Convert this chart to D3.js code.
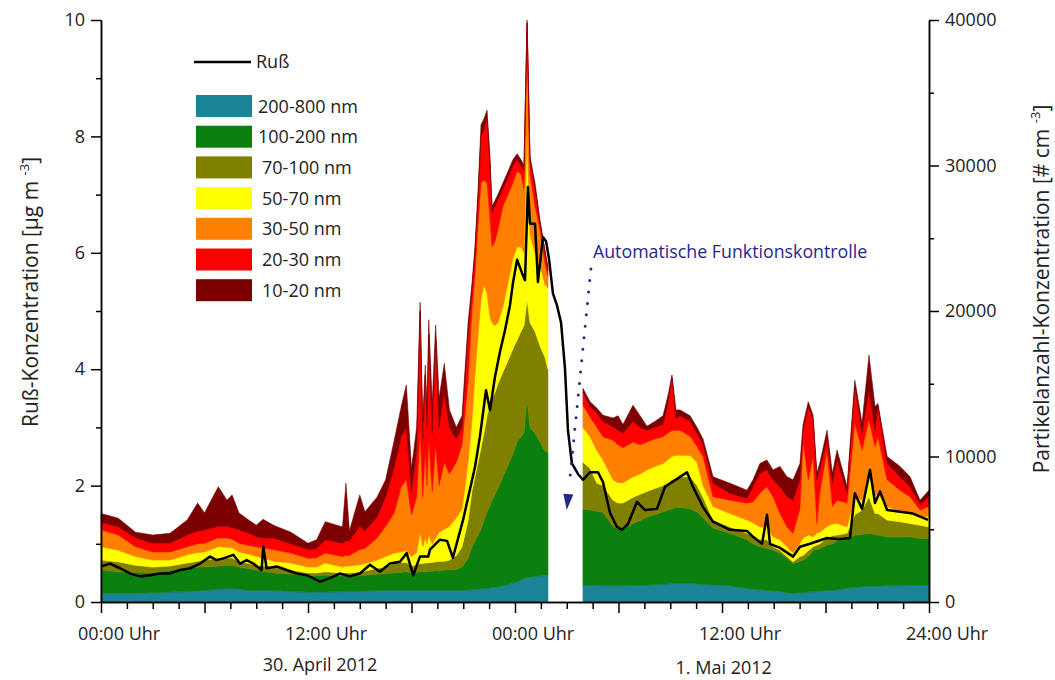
<!DOCTYPE html>
<html lang="de">
<head>
<meta charset="utf-8">
<title>Ruß- und Partikelanzahl-Konzentration</title>
<script src="https://cdn.jsdelivr.net/npm/d3@7"></script>
<style>
  body { margin: 0; background: #fff; }
  svg { display: block; font-family: "Open Sans", sans-serif; }
</style>
</head>
<body>
<div id="chart"></div>
<script>
// Zeit in Stunden ab 30.04.2012 00:00 Uhr (null-Zeile = Messluecke)
const stunden = [0, 1, 2, 3, 4, 5, 5.6, 6, 6.8, 7.3, 7.6, 8, 8.6, 9, 9.4, 10, 11, 12, 12.5, 13,
  14, 14.2, 14.4, 15, 15.3, 16, 16.5, 17, 17.4, 17.7, 18, 18.3, 18.5, 18.65, 18.8, 18.9, 19, 19.2, 19.4, 19.6,
  19.9, 20.2, 20.6, 20.93, 21.28, 21.5, 21.68, 21.86, 22.03, 22.2, 22.38, 22.55, 22.67, 22.84, 23.01, 23.3, 23.6, 23.88, 24.12, 24.35,
  24.52, 24.7, 24.87, 25.16, 25.45, 25.74, 25.91, 26.9,
  27.94, 28.35, 28.75, 29.1, 29.68, 29.97, 30.26, 30.84, 31.25, 31.65, 32.1, 32.58, 32.87, 33.1, 33.33, 33.57, 34.15, 34.55, 34.9, 35.48,
  36.46, 37.45, 37.8, 38.2, 38.6, 38.96, 39.36, 39.77, 40.12, 40.52, 40.7, 41.0, 41.28, 41.5, 41.68, 42.09, 42.4, 42.67, 43.25, 43.7,
  44.12, 44.52, 44.87, 45.04, 45.57, 46.32, 46.9, 47.48, 48];

// Partikelanzahl je Groessenklasse [# cm-3]
const n200_800 = [600, 600, 600, 640, 680, 720, 760, 800, 880, 920, 920, 880, 800, 800, 800, 800, 720, 680, 680, 680,
  720, 720, 720, 720, 760, 800, 800, 800, 800, 800, 800, 800, 800, 800, 800, 800, 800, 800, 800, 800,
  800, 800, 800, 800, 840, 840, 880, 880, 920, 920, 960, 960, 1000, 1000, 1040, 1120, 1200, 1320, 1400, 1520,
  1600, 1680, 1720, 1760, 1800, 1840, 1840, null,
  1160, 1160, 1160, 1120, 1120, 1120, 1120, 1160, 1160, 1160, 1200, 1240, 1240, 1280, 1280, 1280, 1280, 1240, 1200, 1160,
  1120, 920, 880, 840, 800, 760, 720, 640, 600, 640, 640, 680, 720, 720, 760, 800, 800, 840, 960, 1000,
  1040, 1080, 1080, 1080, 1120, 1120, 1160, 1160, 1160];
const n100_200 = [1600, 1480, 1400, 1360, 1480, 1600, 1640, 1600, 1600, 1600, 1600, 1520, 1480, 1400, 1320, 1200, 1200, 1120, 1120, 1160,
  1080, 1080, 1080, 1120, 1080, 1120, 1160, 1200, 1240, 1280, 1200, 1240, 1280, 1280, 1280, 1280, 1320, 1320, 1360, 1360,
  1400, 1400, 1440, 1600, 2160, 2960, 3320, 3720, 4080, 4680, 5240, 5640, 6000, 6400, 6760, 7480, 8200, 8880, 9600, 9880,
  10000, 12320, 10280, 9840, 9200, 8560, 8400, null,
  5240, 5160, 5080, 5040, 4080, 3880, 3880, 4240, 4440, 4680, 4800, 4960, 5080, 5120, 5200, 5240, 5120, 4960, 4600, 3920,
  3600, 3360, 3120, 2960, 2880, 2800, 2640, 2360, 2040, 2160, 2240, 2440, 2840, 2880, 2920, 3120, 3200, 3360, 3320, 3600,
  3600, 3640, 3560, 3520, 3360, 3360, 3320, 3200, 3200];
const n70_100 = [680, 680, 520, 400, 320, 360, 400, 480, 520, 520, 520, 360, 360, 320, 360, 400, 280, 200, 200, 240,
  200, 200, 200, 240, 280, 400, 440, 680, 680, 640, 480, 520, 560, 560, 600, 600, 600, 600, 600, 640,
  600, 680, 960, 1400, 2600, 3800, 4400, 5000, 5600, 6000, 6600, 7000, 7000, 7000, 7200, 7200, 7200, 7200, 7000, 7200,
  7400, 6800, 7200, 7000, 6600, 6400, 5760, null,
  3200, 2880, 1920, 1840, 1800, 1800, 1800, 1800, 1800, 1760, 1800, 1800, 1880, 2000, 2000, 2080, 2200, 1800, 1400, 560,
  440, 440, 480, 480, 600, 240, 200, 120, 120, 320, 320, 400, 240, 320, 320, 480, 560, 400, 440, 1400,
  1680, 2520, 1440, 1480, 1160, 1040, 920, 920, 800];
const n50_70 = [920, 800, 600, 480, 400, 560, 600, 560, 800, 720, 680, 680, 640, 600, 560, 400, 480, 400, 400, 600,
  400, 480, 480, 480, 520, 560, 720, 680, 720, 800, 640, 840, 2160, 1160, 1720, 1320, 1880, 1280, 1640, 2000,
  2200, 2320, 2600, 2600, 4000, 4800, 7000, 8800, 10200, 10200, 8400, 6000, 5200, 4600, 4200, 4480, 5400, 6200, 6400, 5800,
  5000, 11600, 6000, 5400, 5600, 5000, 5600, null,
  2400, 2160, 2240, 1760, 1400, 1400, 1400, 1400, 1400, 1480, 1520, 1520, 1600, 1600, 1600, 1480, 1480, 1600, 800, 920,
  920, 920, 960, 880, 880, 680, 720, 680, 600, 880, 1200, 1080, 680, 800, 800, 800, 800, 800, 440, 1240,
  680, 1600, 1160, 1400, 920, 680, 680, 600, 720];
const n30_50 = [1160, 1040, 680, 560, 560, 560, 600, 600, 600, 640, 600, 600, 600, 680, 680, 800, 680, 600, 640, 680,
  720, 720, 720, 1040, 1040, 1520, 2080, 2760, 4480, 4880, 2880, 3800, 7200, 3400, 6000, 4000, 6600, 3600, 6400, 3200,
  4600, 3600, 3800, 4400, 5600, 7600, 6800, 7600, 8000, 7200, 7600, 6800, 5200, 5800, 6400, 6920, 6000, 5200, 5200, 5000,
  4400, 6800, 4200, 3200, 2400, 1480, 800, null,
  1520, 1360, 1600, 1600, 2720, 2600, 2400, 2400, 2000, 1920, 1880, 1840, 1800, 1800, 1720, 1720, 1320, 1080, 2000, 680,
  920, 1160, 1440, 2320, 2760, 2760, 1800, 1360, 1360, 2400, 6720, 3800, 5520, 680, 2800, 5240, 1200, 1600, 1640, 5040,
  3440, 3680, 3440, 3880, 1840, 1480, 1160, 440, 680];
const n20_30 = [520, 560, 600, 600, 600, 800, 880, 920, 800, 800, 800, 920, 840, 680, 680, 800, 640, 600, 640, 920,
  920, 1000, 1000, 1600, 1200, 1440, 2000, 3160, 3440, 3600, 1600, 3200, 8000, 4000, 5200, 4000, 7200, 4000, 7200, 4000,
  4800, 3200, 1600, 1200, 3200, 1400, 1600, 1600, 3200, 3400, 4400, 3600, 2400, 2400, 2000, 1200, 1200, 1200, 800, 600,
  1200, 600, 800, 1200, 400, 720, 400, null,
  880, 720, 960, 1040, 920, 1000, 1000, 1400, 1200, 800, 800, 840, 2000, 3600, 800, 1000, 1000, 920, 800, 920,
  480, 320, 1040, 1360, 1160, 1160, 1840, 2080, 2280, 2000, 680, 5000, 2520, 3000, 1600, 680, 1600, 2760, 680, 2520,
  1160, 2040, 1120, 2080, 1120, 920, 680, 360, 680];
const n10_20 = [600, 600, 400, 560, 680, 1040, 1920, 1160, 2720, 1800, 2240, 1160, 880, 800, 1280, 880, 800, 440, 600, 1240,
  1120, 3960, 680, 2160, 1320, 1360, 1200, 1840, 2040, 2920, 1600, 1600, 600, 1200, 680, 1200, 1000, 2000, 1040, 2000,
  2000, 1200, 800, 800, 800, 400, 400, 800, 800, 800, 600, 600, 400, 400, 400, 400, 400, 400, 400, 400,
  400, 200, 400, 400, 240, 200, 200, null,
  280, 320, 360, 440, 600, 1000, 600, 1120, 800, 280, 400, 600, 600, 200, 600, 400, 400, 400, 400, 440,
  680, 560, 480, 680, 680, 680, 1400, 1360, 1400, 1120, 400, 360, 320, 440, 400, 680, 680, 680, 440, 440,
  680, 2400, 1640, 200, 480, 720, 680, 320, 440];

const klassen = ["200-800 nm", "100-200 nm", "70-100 nm", "50-70 nm", "30-50 nm", "20-30 nm", "10-20 nm"];
const farben = ["#1b8496", "#0b800e", "#808000", "#ffff00", "#ff8000", "#ff0000", "#7c0000"];
const reihen = [n200_800, n100_200, n70_100, n50_70, n30_50, n20_30, n10_20];

// Russ-Konzentration [µg m-3], laeuft auch durch die Luecke
const russZeit = [0, 0.52, 1.1, 1.68, 2.26, 2.84, 3.42, 4.0, 4.58, 5.16, 5.74, 6.32, 6.7, 7.09, 7.67, 8.06, 8.44, 8.83, 9.31, 9.41,
  9.6, 10.2, 10.76, 11.34, 11.92, 12.7, 13.28, 13.86, 14.43, 15.01, 15.59, 16.17, 16.75, 17.33, 17.72, 18.1, 18.49, 18.97, 19.07, 19.65,
  20.06, 20.4, 20.99, 21.68, 21.97, 22.32, 22.55, 22.84, 23.13, 23.42, 23.71, 23.88, 24.12, 24.41, 24.58, 24.75, 24.87, 25.16, 25.33, 25.62,
  25.8, 25.97, 26.2, 26.43, 26.67, 26.9, 27.07, 27.3, 27.65, 27.94, 28.35, 28.81, 29.1, 29.51, 29.91, 30.2, 30.55, 31.07, 31.54, 32.23,
  32.7, 33.57, 33.97, 34.32, 34.9, 35.48, 36.46, 37.45, 37.8, 38.32, 38.61, 38.78, 39.36, 40.12, 40.52, 41.1, 42.09, 42.84, 43.42, 43.7,
  44.12, 44.58, 44.87, 45.16, 45.57, 46.32, 47.07, 47.94];
const russWert = [0.61, 0.66, 0.58, 0.49, 0.44, 0.46, 0.49, 0.49, 0.55, 0.58, 0.66, 0.78, 0.72, 0.75, 0.81, 0.66, 0.72, 0.66, 0.55, 0.95,
  0.58, 0.61, 0.55, 0.49, 0.46, 0.35, 0.41, 0.49, 0.44, 0.49, 0.64, 0.52, 0.66, 0.69, 0.84, 0.46, 0.78, 0.78, 0.9, 1.07,
  1.05, 0.76, 1.41, 2.32, 2.85, 3.64, 3.3, 3.87, 4.3, 4.67, 5.1, 5.48, 5.88, 5.65, 5.53, 7.13, 6.5, 6.5, 5.5, 6.27,
  6.2, 5.9, 5.3, 5.1, 4.8, 4.0, 2.95, 2.38, 2.2, 2.1, 2.23, 2.23, 2.06, 1.53, 1.29, 1.24, 1.34, 1.72, 1.58, 1.6,
  1.98, 2.15, 2.23, 1.98, 1.63, 1.38, 1.24, 1.22, 1.12, 1.0, 1.5, 1.0, 0.93, 0.78, 0.95, 1.0, 1.1, 1.08, 1.1, 1.87,
  1.6, 2.27, 1.7, 1.9, 1.58, 1.55, 1.52, 1.41];

// Achsenbeschriftung
const zeitTicks = [0, 12, 24, 36, 48];
const zeitLabels = ["00:00", "12:00", "00:00", "12:00", "24:00"];
const tage = [{text: "30. April 2012", h: 12.7, y: 671}, {text: "1. Mai 2012", h: 36.1, y: 674}];

const width = 1055, height = 680;
const margin = {top: 20, right: 126, bottom: 78, left: 101};
const schrift = "'Open Sans', sans-serif";

const svg = d3.select("#chart").append("svg")
    .attr("width", width)
    .attr("height", height);

const x = d3.scaleLinear().domain([0, 48]).range([margin.left, width - margin.right]);
const yLinks = d3.scaleLinear().domain([0, 10]).range([height - margin.bottom, margin.top]);
const yRechts = d3.scaleLinear().domain([0, 40000]).range([height - margin.bottom, margin.top]);

// gestapelte Flaechen
const zeilen = stunden.map((h, i) => {
    const z = {h: h};
    klassen.forEach((k, j) => { z[k] = reihen[j][i]; });
    return z;
});
const stapel = d3.stack().keys(klassen).value((d, k) => d[k] ?? 0)(zeilen);

const flaeche = d3.area()
    .defined(d => d.data[klassen[0]] !== null)
    .x(d => x(d.data.h))
    .y0(d => yRechts(d[0]))
    .y1(d => yRechts(d[1]));

svg.append("g")
    .selectAll("path")
    .data(stapel)
    .join("path")
    .attr("d", flaeche)
    .attr("fill", (d, i) => farben[i])
    .attr("stroke", (d, i) => farben[i])
    .attr("stroke-width", 0.6);

// Russ-Linie
const linie = d3.line()
    .x((d, i) => x(russZeit[i]))
    .y(d => yLinks(d));

svg.append("path")
    .datum(russWert)
    .attr("d", linie)
    .attr("fill", "none")
    .attr("stroke", "#000")
    .attr("stroke-width", 2.5)
    .attr("stroke-linejoin", "round");

// Achsen
function stil(g) {
    g.attr("font-family", schrift).attr("font-size", 18);
    g.select(".domain").attr("stroke-width", 1.5);
    g.selectAll(".tick line").attr("stroke-width", 1.5);
    g.selectAll(".tick text").attr("fill", "#222");
}

const unten = height - margin.bottom;
svg.append("g")
    .attr("transform", `translate(${margin.left},0)`)
    .call(d3.axisLeft(yLinks).tickValues([1, 3, 5, 7, 9]).tickSize(5).tickSizeOuter(0).tickFormat(""))
    .call(stil);
svg.append("g")
    .attr("transform", `translate(${margin.left},0)`)
    .call(d3.axisLeft(yLinks).tickValues([0, 2, 4, 6, 8, 10]).tickSize(10).tickSizeOuter(0).tickPadding(6))
    .call(stil);

svg.append("g")
    .attr("transform", `translate(${width - margin.right},0)`)
    .call(d3.axisRight(yRechts).tickValues([5000, 15000, 25000, 35000]).tickSize(5).tickSizeOuter(0).tickFormat(""))
    .call(stil);
svg.append("g")
    .attr("transform", `translate(${width - margin.right},0)`)
    .call(d3.axisRight(yRechts).tickValues([0, 10000, 20000, 30000, 40000]).tickSize(10).tickSizeOuter(0).tickPadding(6).tickFormat(d3.format("d")))
    .call(stil);

svg.append("g")
    .attr("transform", `translate(0,${unten})`)
    .call(d3.axisBottom(x).tickValues(d3.range(1.5, 48, 1.5).filter(v => v % 6 !== 0)).tickSize(7).tickSizeOuter(0).tickFormat(""))
    .call(stil);
svg.append("g")
    .attr("transform", `translate(0,${unten})`)
    .call(d3.axisBottom(x).tickValues(d3.range(0, 49, 6)).tickSize(11).tickSizeOuter(0).tickFormat(""))
    .call(stil);

// Zeitbeschriftung: die Uhrzeit steht mittig unter dem Tick
const zeitText = svg.append("g")
    .attr("font-family", schrift)
    .attr("font-size", 18)
    .attr("fill", "#222")
    .selectAll("text")
    .data(zeitTicks)
    .join("text")
    .attr("y", unten + 38);
zeitText.append("tspan").text((d, i) => zeitLabels[i]);
zeitText.append("tspan").text(" Uhr");
zeitText.each(function(d) {
    const w = this.getSubStringLength(0, 5);
    d3.select(this).attr("x", x(d) - w / 2);
});

svg.append("g")
    .attr("font-family", schrift)
    .attr("font-size", 18)
    .attr("fill", "#222")
    .attr("text-anchor", "middle")
    .selectAll("text")
    .data(tage)
    .join("text")
    .attr("x", d => x(d.h))
    .attr("y", d => d.y)
    .text(d => d.text);

// Achsentitel
function titel(xPos, yPos, haupt) {
    const t = svg.append("text")
        .attr("transform", `translate(${xPos},${yPos}) rotate(-90)`)
        .attr("text-anchor", "middle")
        .attr("font-family", schrift)
        .attr("font-size", 21)
        .attr("fill", "#222");
    t.append("tspan").text(haupt);
    t.append("tspan").attr("dy", -9).attr("font-size", 13).text("-3");
    t.append("tspan").attr("dy", 9).text("]");
}
titel(38, 292, "Ruß-Konzentration [µg m ");
titel(1049, 289, "Partikelanzahl-Konzentration [# cm ");

// Legende
const legende = svg.append("g")
    .attr("font-family", schrift)
    .attr("font-size", 18)
    .attr("fill", "#222");

legende.append("line")
    .attr("x1", 194).attr("x2", 251)
    .attr("y1", 62).attr("y2", 62)
    .attr("stroke", "#000")
    .attr("stroke-width", 2.5);
legende.append("text")
    .attr("x", 256).attr("y", 68)
    .text("Ruß");

const eintrag = legende.selectAll("g.eintrag")
    .data(klassen)
    .join("g")
    .attr("class", "eintrag")
    .attr("transform", (d, i) => `translate(196,${95 + i * 30.7})`);
eintrag.append("rect")
    .attr("width", 56)
    .attr("height", 22)
    .attr("fill", (d, i) => farben[i]);
eintrag.append("text")
    .attr("x", d => d.indexOf("-") < 3 ? 66 : 62)
    .attr("y", 17.5)
    .text(d => d);

// Hinweis auf die Messluecke
const blau = "#26268c";
svg.append("text")
    .attr("x", x(28.52))
    .attr("y", yLinks(5.91))
    .attr("font-family", schrift)
    .attr("font-size", 17.8)
    .attr("fill", blau)
    .text("Automatische Funktionskontrolle");

const p0 = [x(28.4), yLinks(5.72)];
const spitze = [x(27.0), yLinks(1.58)];
const dx = spitze[0] - p0[0], dy = spitze[1] - p0[1];
const len = Math.hypot(dx, dy);
const ux = dx / len, uy = dy / len;
const kopf = 16;
const basis = [spitze[0] - ux * kopf, spitze[1] - uy * kopf];

svg.append("line")
    .attr("x1", p0[0]).attr("y1", p0[1])
    .attr("x2", basis[0] - ux * 8).attr("y2", basis[1] - uy * 8)
    .attr("stroke", blau)
    .attr("stroke-width", 3)
    .attr("stroke-linecap", "round")
    .attr("stroke-dasharray", "0 11.5");

svg.append("path")
    .attr("d", d3.line()([
        spitze,
        [basis[0] - uy * 5, basis[1] + ux * 5],
        [basis[0] + uy * 5, basis[1] - ux * 5]
    ]) + "Z")
    .attr("fill", blau);
</script>
</body>
</html>
